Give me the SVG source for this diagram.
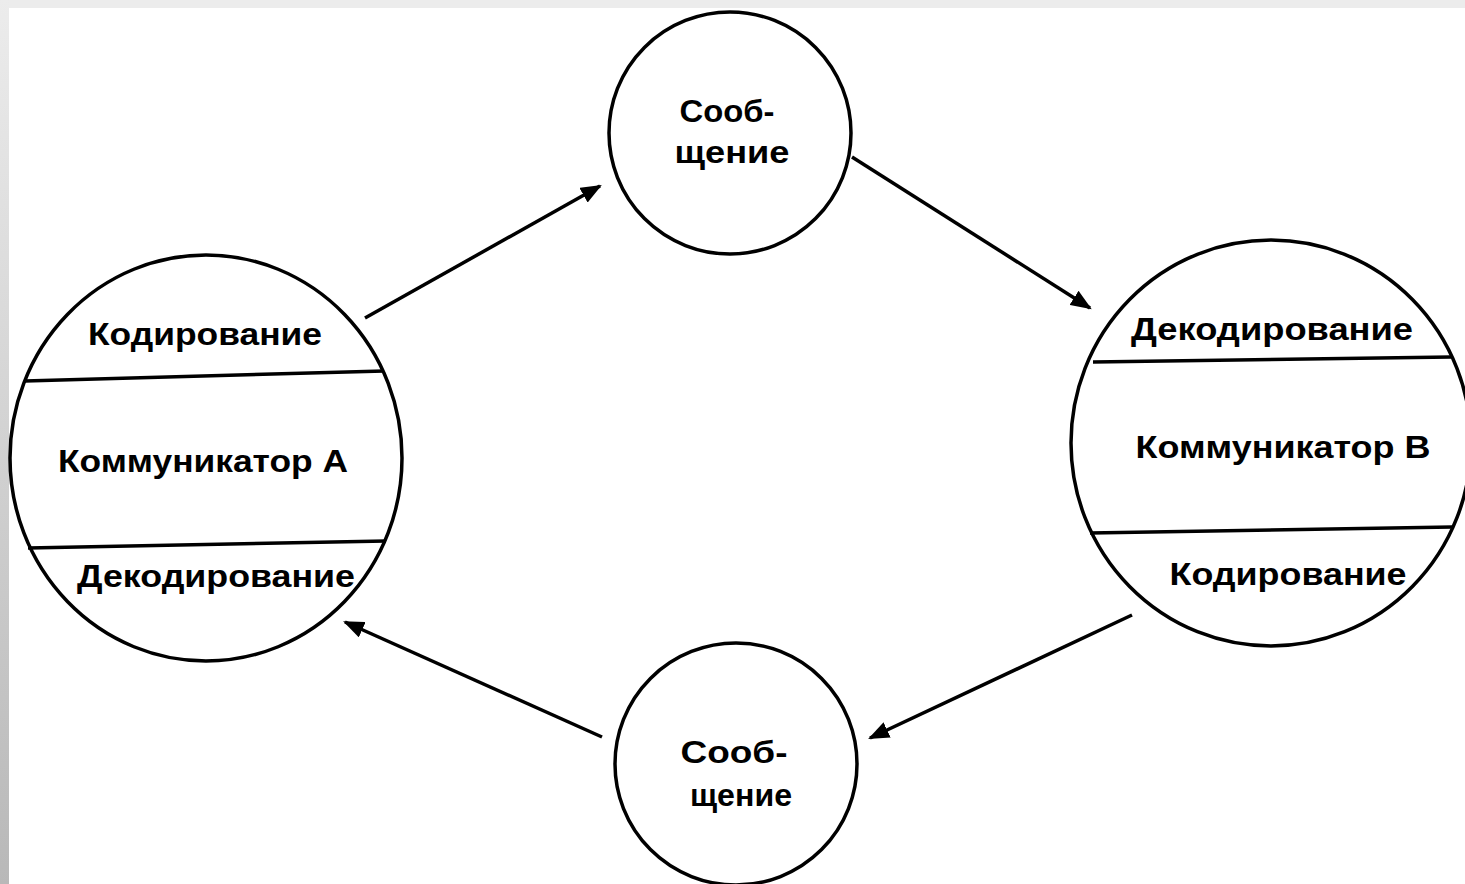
<svg xmlns="http://www.w3.org/2000/svg" width="1465" height="884" viewBox="0 0 1465 884">
<style>
.c{fill:none;stroke:#000;stroke-width:3.5}
.d{fill:none;stroke:#000;stroke-width:3.5}
.a{fill:none;stroke:#000;stroke-width:3.5;marker-end:url(#ah)}
text{font-family:"Liberation Sans",Arial,sans-serif;font-size:31px;font-weight:bold;fill:#000;text-anchor:middle}
</style>
<defs>
<linearGradient id="lg" x1="0" y1="0" x2="0" y2="1">
<stop offset="0" stop-color="#ececec"/>
<stop offset="1" stop-color="#b8b8b8"/>
</linearGradient>
<marker id="ah" viewBox="0 0 10 8" refX="9" refY="4" markerWidth="6" markerHeight="4.8" orient="auto" markerUnits="strokeWidth">
<path d="M0,0 L10,4 L0,8 Z" fill="#000"/>
</marker>
</defs>
<rect x="0" y="0" width="1465" height="884" fill="#fff"/>
<rect x="0" y="0" width="1465" height="8" fill="#ececec"/>
<rect x="0" y="0" width="9" height="884" fill="url(#lg)"/>
<g id="connectors">
<line class="a" x1="365" y1="318" x2="600" y2="186"/>
<line class="a" x1="852" y1="157" x2="1090" y2="308"/>
<line class="a" x1="1132" y1="615" x2="870" y2="738"/>
<line class="a" x1="602" y1="737" x2="345" y2="622"/>
</g>
<g id="msg-top">
<circle class="c" cx="730" cy="133" r="121"/>
<text x="727" y="122" textLength="95" lengthAdjust="spacingAndGlyphs">Сооб-</text>
<text x="732" y="163" textLength="115" lengthAdjust="spacingAndGlyphs">щение</text>
</g>
<g id="msg-bottom">
<circle class="c" cx="736" cy="764" r="121"/>
<text x="734" y="763" textLength="107" lengthAdjust="spacingAndGlyphs">Сооб-</text>
<text x="741" y="806" textLength="102" lengthAdjust="spacingAndGlyphs">щение</text>
</g>
<g id="comm-a">
<ellipse class="c" cx="206" cy="458" rx="196" ry="203"/>
<line class="d" x1="25" y1="381" x2="384" y2="371"/>
<line class="d" x1="28" y1="548" x2="386" y2="541"/>
<text x="205" y="345" textLength="234" lengthAdjust="spacingAndGlyphs">Кодирование</text>
<text x="203" y="472" textLength="290" lengthAdjust="spacingAndGlyphs">Коммуникатор А</text>
<text x="216" y="587" textLength="278" lengthAdjust="spacingAndGlyphs">Декодирование</text>
</g>
<g id="comm-b">
<ellipse class="c" cx="1271" cy="443" rx="200" ry="203"/>
<line class="d" x1="1093" y1="362" x2="1451" y2="357"/>
<line class="d" x1="1090" y1="533" x2="1452" y2="527"/>
<text x="1272" y="340" textLength="282" lengthAdjust="spacingAndGlyphs">Декодирование</text>
<text x="1283" y="458" textLength="295" lengthAdjust="spacingAndGlyphs">Коммуникатор В</text>
<text x="1288" y="585" textLength="237" lengthAdjust="spacingAndGlyphs">Кодирование</text>
</g>
</svg>
